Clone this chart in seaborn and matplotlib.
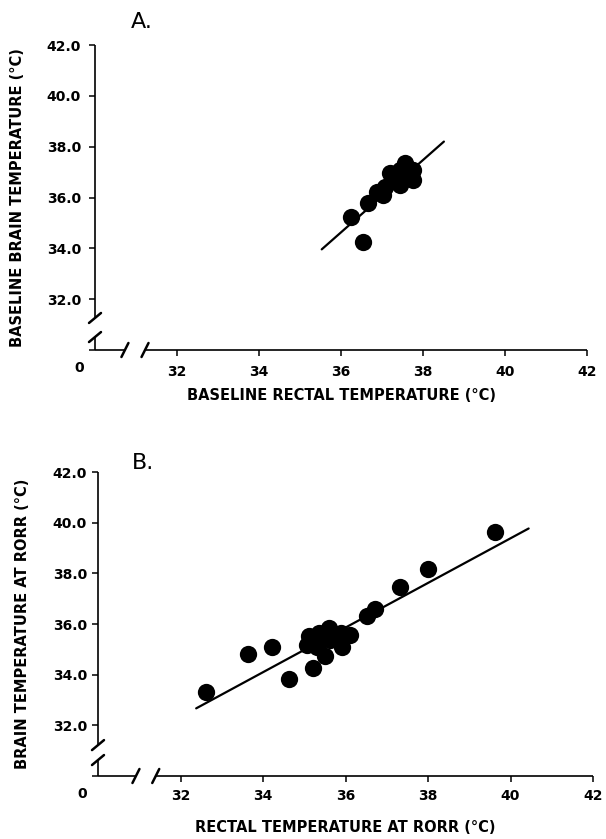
import matplotlib
matplotlib.use('Agg')
import matplotlib.pyplot as plt
import seaborn as sns
import pandas as pd

# panel A - baseline temperatures (deg C)
a_rectal = [36.54, 36.24, 36.67, 36.89, 37.07, 37.20, 37.32, 37.44, 37.56,
            37.60, 37.76, 37.76, 37.44, 37.03]
a_brain = [34.26, 35.25, 35.78, 36.23, 36.43, 36.95, 36.63, 36.50, 37.35,
           36.89, 37.09, 36.69, 37.09, 36.10]
a_fit_x = [35.53, 38.51]
a_fit_y = [33.96, 38.20]

# panel B - temperatures at RORR (deg C)
b_rectal = [32.62, 33.63, 34.22, 34.62, 35.21, 35.11, 35.07, 35.35, 35.59,
            35.51, 35.31, 35.63, 35.92, 36.12, 35.88, 36.52, 36.72, 37.33,
            38.01, 39.62]
b_brain = [33.33, 34.82, 35.11, 33.82, 34.28, 35.51, 35.18, 35.64, 35.84,
           34.72, 35.11, 35.38, 35.11, 35.57, 35.64, 36.30, 36.58, 37.48,
           38.18, 39.62]
b_fit_x = [32.38, 40.44]
b_fit_y = [32.67, 39.77]

x_ticks = [32, 34, 36, 38, 40, 42]
x_ticklabels = ['32', '34', '36', '38', '40', '42']
y_ticks = [30, 32, 34, 36, 38, 40, 42]
y_ticklabels = ['', '32.0', '34.0', '36.0', '38.0', '40.0', '42.0']

sns.set_style('ticks')
plt.rcParams['font.family'] = ['DejaVu Sans']
plt.rcParams['text.color'] = 'black'
plt.rcParams['axes.labelcolor'] = 'black'
plt.rcParams['xtick.color'] = 'black'
plt.rcParams['ytick.color'] = 'black'

W, H = 606, 839
fig = plt.figure(figsize=(W / 100, H / 100), dpi=100)


def draw_panel(rect, xs, ys, fit_x, fit_y, xbreaks, ybreaks, xlabel, ylabel,
               letter, letter_pos, xlab_y, ylab_x, pads):
    left, top, right, bottom = rect
    ax = fig.add_axes([left / W, 1 - bottom / H, (right - left) / W, (bottom - top) / H])
    df = pd.DataFrame({'x': xs, 'y': ys})
    sns.scatterplot(data=df, x='x', y='y', ax=ax, color='black', s=155,
                    linewidth=0, zorder=3)
    ax.plot(fit_x, fit_y, color='black', lw=1.6, zorder=2)
    ax.set_xlim(30, 42)
    ax.set_ylim(30, 42)
    for sp in ax.spines.values():
        sp.set_visible(False)

    # pixels per degree, for the break marks
    px_x = (right - left) / 12
    px_y = (bottom - top) / 12
    kw = dict(color='black', lw=1.2, clip_on=False, solid_capstyle='butt')
    ax.plot([30, xbreaks[0]], [30, 30], **kw)
    ax.plot([xbreaks[1], 42], [30, 30], **kw)
    ax.plot([30, 30], [30, ybreaks[1]], **kw)
    ax.plot([30, 30], [ybreaks[0], 42], **kw)
    kw2 = dict(color='black', lw=1.8, clip_on=False, solid_capstyle='round')
    for xb in xbreaks:
        ax.plot([xb - 3.5 / px_x, xb + 3.5 / px_x], [30 - 7 / px_y, 30 + 7 / px_y], **kw2)
    for yb in ybreaks:
        ax.plot([30 - 6 / px_x, 30 + 6 / px_x], [yb - 5 / px_y, yb + 5 / px_y], **kw2)

    ax.set_xticks(x_ticks)
    ax.set_xticklabels(x_ticklabels, fontweight='bold', fontsize=10)
    ax.set_yticks(y_ticks)
    ax.set_yticklabels(y_ticklabels, fontweight='bold', fontsize=10)
    ax.tick_params(axis='both', direction='out', length=4, width=1.1)
    ax.tick_params(axis='x', pad=pads[0])
    ax.tick_params(axis='y', pad=pads[1])
    ax.annotate('0', xy=(30, 30), xytext=(-16, -18), textcoords='offset pixels',
                ha='center', va='center', fontsize=10, fontweight='bold',
                annotation_clip=False)

    ax.set_xlabel(xlabel, fontsize=10.5, fontweight='bold')
    ax.set_ylabel(ylabel, fontsize=10.5, fontweight='bold')
    ax.xaxis.label.set_va('center')
    ax.yaxis.label.set_va('center')
    ax.xaxis.set_label_coords(0.5, xlab_y)
    ax.yaxis.set_label_coords(ylab_x, 0.5)

    fig.text(letter_pos[0] / W, 1 - letter_pos[1] / H, letter, fontsize=16,
             ha='left', va='center')
    return ax


draw_panel((95, 45, 587, 350), a_rectal, a_brain, a_fit_x, a_fit_y,
           (30.73, 31.22), (31.26, 30.51),
           'BASELINE RECTAL TEMPERATURE (\u00b0C)',
           'BASELINE BRAIN TEMPERATURE (\u00b0C)',
           'A.', (131, 22), -0.148, -0.158, (7, 6))

draw_panel((98, 472, 593, 776), b_rectal, b_brain, b_fit_x, b_fit_y,
           (30.92, 31.40), (31.22, 30.63),
           'RECTAL TEMPERATURE AT RORR (\u00b0C)',
           'BRAIN TEMPERATURE AT RORR (\u00b0C)',
           'B.', (132, 463), -0.171, -0.153, (5, 4))

fig.savefig('out.png', dpi=100)
